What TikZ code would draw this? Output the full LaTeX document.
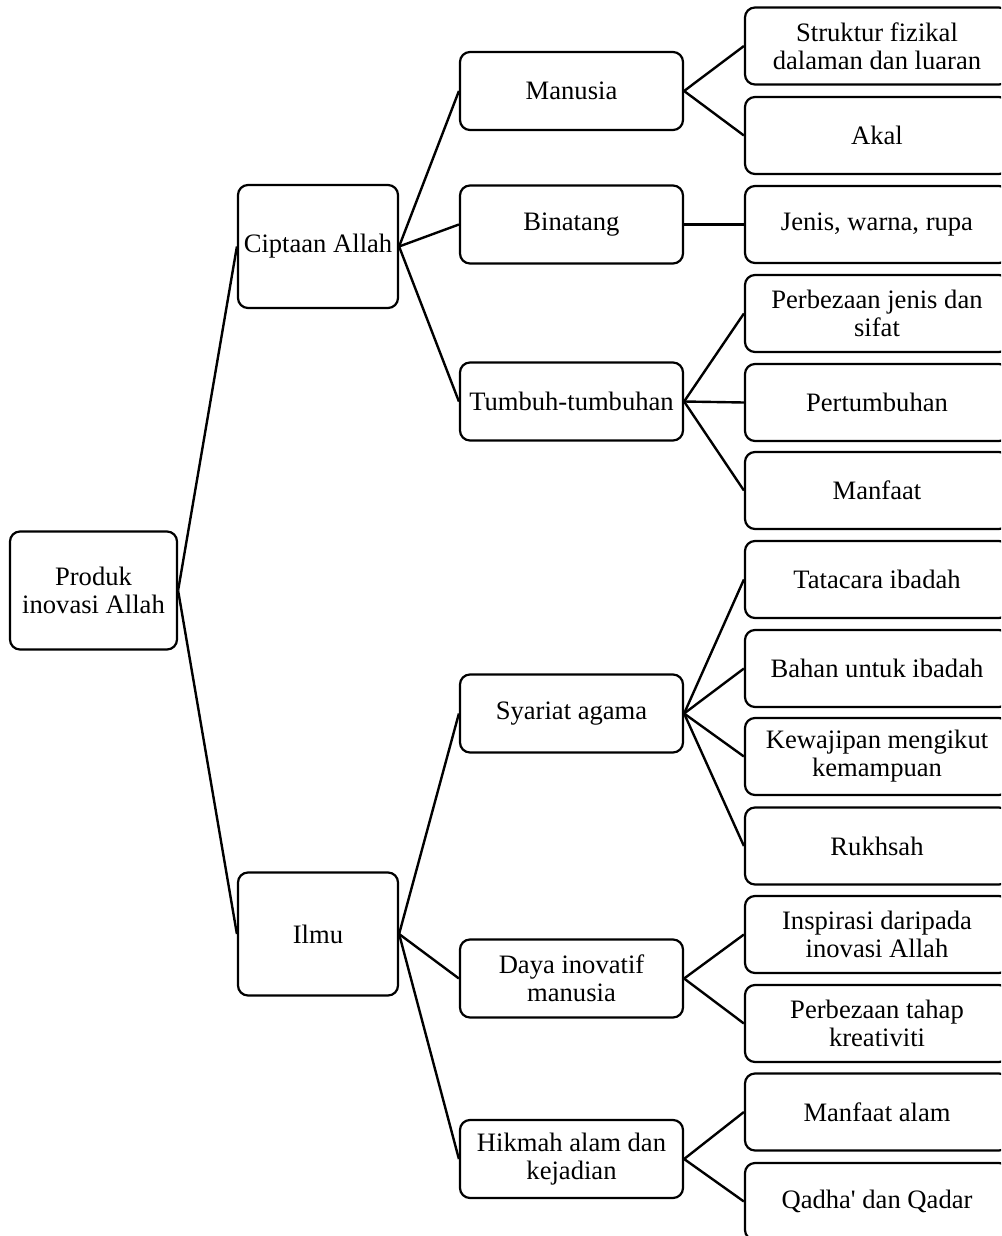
\documentclass[tikz,border=0pt]{standalone}
\usepackage{fontspec}
\setmainfont{Liberation Serif}
\usepackage{tikz}
\usetikzlibrary{positioning}
\tikzset{
  every picture/.append style={font=\fontsize{13.3}{14}\selectfont},
  box/.style={rectangle,rounded corners=5pt,draw=black,line width=1.1pt,fill=white,inner sep=2pt,align=center},
  rootbox/.style={box,minimum width=83.5pt,minimum height=59pt},
  mainbox/.style={box,minimum width=80pt,minimum height=61.5pt},
  subbox/.style={box,minimum width=111.5pt,minimum height=39pt},
  leafbox/.style={box,minimum width=132pt,minimum height=38.5pt},
  link/.style={draw=black,line width=1.2pt},
}

\begin{document}
\begin{tikzpicture}[x=0.5pt,y=-0.5pt]
  \useasboundingbox (0,0) rectangle (1001,1236);
  \clip (0,0) rectangle (1001,1236);

  \node[rootbox] (root) at (93.5,590.5) {Produk\\inovasi Allah};

  \node[mainbox] (cipta) at (318,246.5) {Ciptaan Allah};
  \node[mainbox] (ilmu)  at (318,934)   {Ilmu};

  \node[subbox] (manusia)  at (571.5,91)    {Manusia};
  \node[subbox] (binatang) at (571.5,224.5) {Binatang};
  \node[subbox] (tumbuh)   at (571.5,401.5) {Tumbuh-tumbuhan};
  \node[subbox] (syariat)  at (571.5,713.5) {Syariat agama};
  \node[subbox] (daya)     at (571.5,978.5) {Daya inovatif\\manusia};
  \node[subbox] (hikmah)   at (571.5,1159)  {Hikmah alam dan\\kejadian};

  \node[leafbox] (struktur)  at (877,46)     {Struktur fizikal\\dalaman dan luaran};
  \node[leafbox] (akal)      at (877,135.5)  {Akal};
  \node[leafbox] (jenis)     at (877,224.5)  {Jenis, warna, rupa};
  \node[leafbox] (beza)      at (877,313.5)  {Perbezaan jenis dan\\sifat};
  \node[leafbox] (tumbuhan)  at (877,402.5)  {Pertumbuhan};
  \node[leafbox] (manfaat)   at (877,490.5)  {Manfaat};
  \node[leafbox] (tatacara)  at (877,579.5)  {Tatacara ibadah};
  \node[leafbox] (bahan)     at (877,668.5)  {Bahan untuk ibadah};
  \node[leafbox] (wajib)     at (877,756.5)  {Kewajipan mengikut\\kemampuan};
  \node[leafbox] (rukhsah)   at (877,846)    {Rukhsah};
  \node[leafbox] (ilham)     at (877,934.5)  {Inspirasi daripada\\inovasi Allah};
  \node[leafbox] (tahap)     at (877,1023.5) {Perbezaan tahap\\kreativiti};
  \node[leafbox] (alam)      at (877,1112)   {Manfaat alam};
  \node[leafbox] (qadha)     at (877,1201.5) {Qadha\textquotesingle{} dan Qadar};

  % parent -> child
  \foreach \p/\c in {root/cipta, root/ilmu,
                     cipta/manusia, cipta/binatang, cipta/tumbuh,
                     ilmu/syariat, ilmu/daya, ilmu/hikmah,
                     manusia/struktur, manusia/akal, binatang/jenis,
                     tumbuh/beza, tumbuh/tumbuhan, tumbuh/manfaat,
                     syariat/tatacara, syariat/bahan, syariat/wajib, syariat/rukhsah,
                     daya/ilham, daya/tahap, hikmah/alam, hikmah/qadha} {%
    \draw[link] (\p.east) -- (\c.west);
  }
\end{tikzpicture}
\end{document}
